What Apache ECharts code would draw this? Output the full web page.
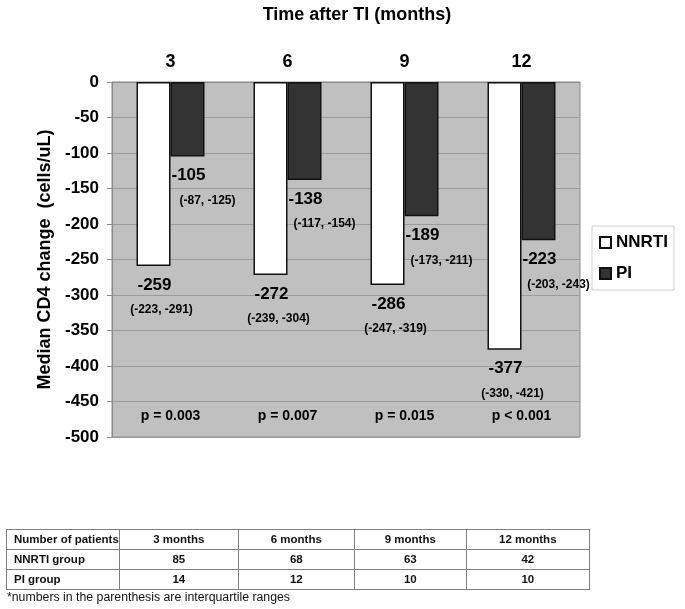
<!DOCTYPE html>
<html>
<head>
<meta charset="utf-8">
<script src="https://cdn.jsdelivr.net/npm/echarts@6/dist/echarts.min.js"></script>
<style>
html,body{margin:0;padding:0;background:#fff;}
#wrap{position:relative;width:685px;height:609px;overflow:hidden;}
#chart{position:absolute;left:0;top:0;width:685px;height:609px;}
#tbl{position:absolute;left:6px;top:529px;border-collapse:collapse;table-layout:fixed;
  font-family:"Liberation Sans",Arial,sans-serif;font-size:11.5px;font-weight:bold;color:#111;}
#tbl td{border:1px solid #808080;height:19px;padding:0;text-align:center;line-height:19px;white-space:nowrap;overflow:hidden;}
#tbl td.first{text-align:left;padding-left:7px;}
#note{position:absolute;left:7px;top:590px;font-family:"Liberation Sans",Arial,sans-serif;font-size:12.3px;color:#111;}
</style>
</head>
<body>
<div id="wrap">
  <div id="chart"></div>
  <table id="tbl"></table>
  <div id="note">*numbers in the parenthesis are interquartile ranges</div>
</div>
<script>
// ---- data ----
const categories = ['3', '6', '9', '12'];
const nnrti = [-259, -272, -286, -377];
const pi = [-105, -138, -189, -223];
const nnrtiIQR = [[-223, -291], [-239, -304], [-247, -319], [-330, -421]];
const piIQR = [[-87, -125], [-117, -154], [-173, -211], [-203, -243]];
const pValues = ['p = 0.003', 'p = 0.007', 'p = 0.015', 'p < 0.001'];
const pLabelLevel = -470;
const tableHeader = ['Number of patients', '3 months', '6 months', '9 months', '12 months'];
const tableRowNames = ['NNRTI group', 'PI group'];
const nnrtiPatients = [85, 68, 63, 42];
const piPatients = [14, 12, 10, 10];
const colWidths = [111, 119, 116, 112, 123];

// ---- table ----
(function buildTable() {
  const tbl = document.getElementById('tbl');
  const cg = document.createElement('colgroup');
  colWidths.forEach(w => { const c = document.createElement('col'); c.style.width = w + 'px'; cg.appendChild(c); });
  tbl.appendChild(cg);
  const rows = [tableHeader, [tableRowNames[0]].concat(nnrtiPatients), [tableRowNames[1]].concat(piPatients)];
  rows.forEach(r => {
    const tr = document.createElement('tr');
    r.forEach((v, i) => {
      const td = document.createElement('td');
      td.textContent = v;
      if (i === 0) td.className = 'first';
      tr.appendChild(td);
    });
    tbl.appendChild(tr);
  });
})();

// ---- chart ----
const FONT = '"Liberation Sans", Arial, sans-serif';
const TXT = '#000';

function labelSeries(values, texts, dx, dy, fontSize) {
  return {
    type: 'scatter',
    data: values,
    symbolSize: 1,
    itemStyle: { color: 'rgba(0,0,0,0)', opacity: 1 },
    silent: true,
    z: 5,
    emphasis: { disabled: true },
    label: {
      show: true,
      position: 'inside',
      offset: [dx, dy],
      formatter: p => texts[p.dataIndex],
      fontSize: fontSize,
      fontWeight: 'bold',
      color: TXT,
      opacity: 1,
      fontFamily: FONT
    }
  };
}

const chart = echarts.init(document.getElementById('chart'));
chart.setOption({
  animation: false,
  title: {
    text: 'Time after TI (months)',
    left: 352,
    top: 1,
    textAlign: 'center',
    textStyle: { fontSize: 18, fontWeight: 'bold', color: TXT, fontFamily: FONT }
  },
  legend: {
    data: ['NNRTI', 'PI'],
    orient: 'vertical',
    left: 592,
    top: 226,
    icon: 'rect',
    itemWidth: 11,
    itemHeight: 11,
    itemGap: 14,
    padding: [8, 6, 8, 7],
    backgroundColor: '#fff',
    borderColor: '#cfcfcf',
    borderWidth: 1,
    borderRadius: 0,
    textStyle: { fontSize: 17, fontWeight: 'bold', color: TXT, fontFamily: FONT }
  },
  grid: {
    left: 112, right: 105, top: 82, bottom: 172,
    show: true, backgroundColor: '#c0c0c0', borderColor: '#8a8a8a', borderWidth: 1
  },
  xAxis: {
    type: 'category',
    data: categories,
    position: 'top',
    axisLine: { show: true, lineStyle: { color: '#8a8a8a' } },
    axisTick: { show: false },
    axisLabel: { fontSize: 18, fontWeight: 'bold', color: TXT, margin: 11, fontFamily: FONT },
    splitLine: { show: false }
  },
  yAxis: {
    type: 'value',
    min: -500, max: 0, interval: 50,
    name: 'Median CD4 change  (cells/uL)',
    nameLocation: 'middle',
    nameGap: 53,
    nameTextStyle: { fontSize: 18, fontWeight: 'bold', color: TXT, fontFamily: FONT },
    axisLine: { show: true, lineStyle: { color: '#8a8a8a' } },
    axisTick: { show: true, length: 5, lineStyle: { color: '#8a8a8a' } },
    axisLabel: { fontSize: 17, fontWeight: 'bold', color: TXT, margin: 13, fontFamily: FONT },
    splitLine: { show: true, lineStyle: { color: '#9c9c9c', width: 1 } }
  },
  series: [
    { name: 'NNRTI', type: 'bar', data: nnrti, barWidth: 34, barGap: '0%', silent: true,
      itemStyle: { color: '#ffffff', borderColor: '#111', borderWidth: 1.5 } },
    { name: 'PI', type: 'bar', data: pi, barWidth: 34, barGap: '0%', silent: true,
      itemStyle: { color: '#333333', borderColor: '#111', borderWidth: 1.5 } },
    labelSeries(nnrti, nnrti.map(String), -16, 19, 17),
    labelSeries(nnrti, nnrtiIQR.map(r => '(' + r[0] + ', ' + r[1] + ')'), -9, 44, 12),
    labelSeries(pi, pi.map(String), 18, 19, 17),
    labelSeries(pi, piIQR.map(r => '(' + r[0] + ', ' + r[1] + ')'), 37, 44, 12),
    labelSeries(categories.map(() => pLabelLevel), pValues, 0, 0, 14)
  ]
});
</script>
</body>
</html>
